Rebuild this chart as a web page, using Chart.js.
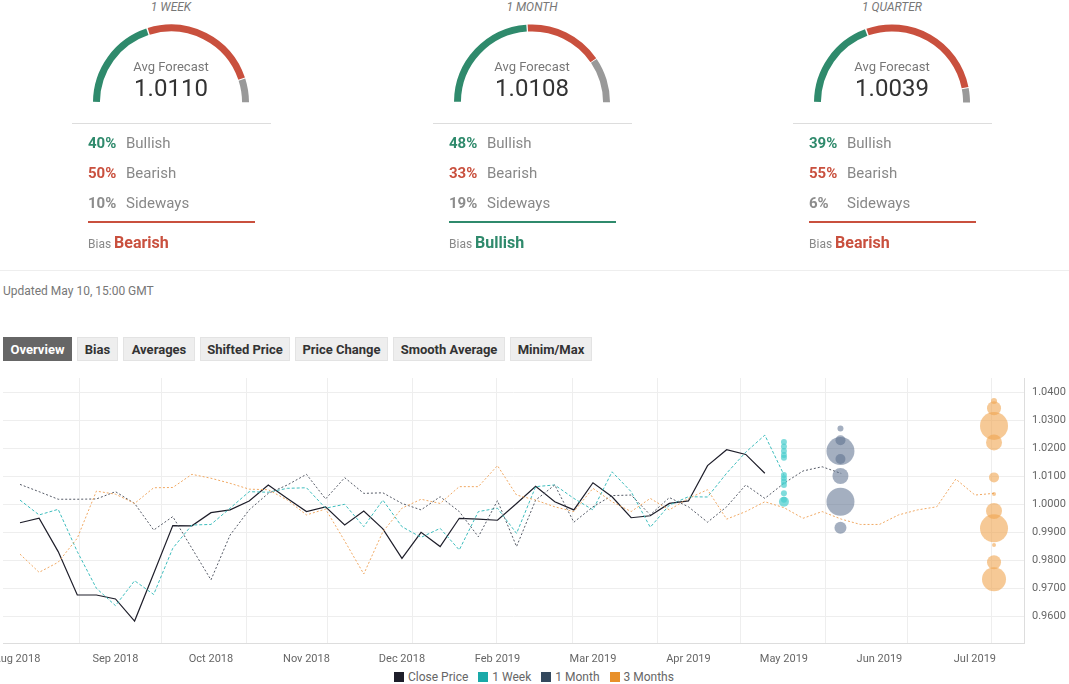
<!DOCTYPE html>
<html><head><meta charset="utf-8">
<script src="https://cdn.jsdelivr.net/npm/chart.js@4"></script>
<style>
body{margin:0;width:1069px;height:684px;position:relative;font-family:Roboto,"Open Sans",sans-serif;background:#fff;overflow:hidden}
.abs{position:absolute}
.title{font-style:italic;font-size:12px;color:#777;width:200px;text-align:center}
.avg{font-size:13px;color:#777;width:200px;text-align:center}
.val{font-size:24px;color:#333;width:200px;text-align:center}
.row{font-size:15px;color:#888}
.row b{display:inline-block;width:38px;font-weight:bold}
.bias{font-size:12px;color:#888}
.bias b{font-size:16px}
.btn{position:absolute;top:337px;height:24px;line-height:24px;background:#eee;color:#333;font-weight:bold;font-size:13px;text-align:center;border:1px solid #e3e3e3;box-sizing:border-box}
.leg{position:absolute;top:670px;font-size:12px;color:#666}
.leg span{display:inline-block;width:10px;height:10px;margin:0 4px 0 10px;vertical-align:-1px}
</style></head><body>
<div id="gauges"></div>
<div class="abs" style="left:0;top:270px;width:1069px;border-top:1px solid #eee"></div>
<div class="abs" style="left:3px;top:284px;font-size:12px;color:#777">Updated May 10, 15:00 GMT</div>
<div class="btn" style="left:3px;width:69px;background:#666;color:#fff;border-color:#666">Overview</div>
<div class="btn" style="left:77px;width:41px">Bias</div>
<div class="btn" style="left:123px;width:72px">Averages</div>
<div class="btn" style="left:200px;width:90px">Shifted Price</div>
<div class="btn" style="left:295px;width:93px">Price Change</div>
<div class="btn" style="left:393px;width:112px">Smooth Average</div>
<div class="btn" style="left:510px;width:82px">Minim/Max</div>
<div class="abs" style="left:0;top:375px;width:1069px;height:295px"><canvas id="c"></canvas></div>
<div class="leg" style="left:384px"><span style="background:#1e1e2a"></span>Close Price<span style="background:#1aa9a8"></span>1 Week<span style="background:#34495e"></span>1 Month<span style="background:#e8902a"></span>3 Months</div>
<script>
// ---- gauges ----
const gaugeTitles=["1 WEEK","1 MONTH","1 QUARTER"];
const gaugeAvg=["1.0110","1.0108","1.0039"];
const gaugeBull=[40,48,39];
const gaugeBear=[50,33,55];
const gaugeSide=[10,19,6];
const gaugeBias=["Bearish","Bullish","Bearish"];
const GREEN="#2f8a6c",RED="#c9503e",GRAY="#8c8c8c";

// ---- main chart (x = week index) ----
const xTickWeeks=[-0.16,5,10,15,20,25,30,35,40,45,50];
const xTickLabels=["Aug 2018","Sep 2018","Oct 2018","Nov 2018","Dec 2018","Feb 2019","Mar 2019","Apr 2019","May 2019","Jun 2019","Jul 2019"];
const gridWeeks=[3.10,7.39,11.84,16.08,20.53,24.97,28.95,33.37,37.71,42.16,46.45,50.86];
const closePrice=[0.9933,0.9949,0.9830,0.9675,0.9675,0.9661,0.9582,0.9752,0.9923,0.9922,0.9969,0.9979,1.0011,1.0068,1.0020,0.9973,0.9990,0.9925,0.9975,0.9911,0.9806,0.9899,0.9848,0.9949,0.9946,0.9942,1.0002,1.0063,1.0008,0.9979,1.0076,1.0026,0.9951,0.9958,1.0002,1.0011,1.0137,1.0194,1.0177,1.0110];
const week1=[1.0014,0.9961,0.9981,0.9830,0.9699,0.9637,0.9726,0.9677,0.9842,0.9925,0.9927,0.9985,1.0044,1.0042,1.0056,1.0058,0.9985,0.9999,0.9919,1.0014,0.9919,0.9881,0.9913,0.9836,0.9973,0.9985,0.9895,1.0062,1.0068,1.0020,0.9979,1.0115,1.0044,0.9917,0.9996,1.0026,1.0025,1.0110,1.0185,1.0246,1.0104];
const month1=[1.0070,1.0044,1.0017,1.0017,1.0018,1.0044,1.0002,0.9907,0.9955,0.9842,0.9729,0.9889,0.9979,1.0038,1.0068,1.0106,1.0018,1.0094,1.0038,1.0040,1.0002,0.9979,1.0026,0.9973,0.9883,1.0012,0.9848,1.0014,1.0068,0.9935,0.9990,1.0030,1.0032,0.9961,1.0023,0.9990,0.9935,0.9990,1.0068,1.0020,1.0074,1.0118,1.0133,1.0109];
const month3=[0.9821,0.9756,0.9792,0.9878,1.0046,1.0035,1.0002,1.0058,1.0059,1.0106,1.0092,1.0074,1.0053,1.0051,1.0014,0.9961,0.9982,0.9868,0.9750,0.9901,0.9985,1.0017,1.0002,1.0062,1.0062,1.0137,1.0032,1.0014,0.9990,0.9973,1.0056,1.0008,0.9973,1.0020,0.9979,1.0020,1.0051,0.9946,0.9973,1.0008,0.9987,0.9949,0.9973,0.9946,0.9927,0.9927,0.9961,0.9979,0.9990,1.0089,1.0032,1.0038];
const week1Bubbles=[[1.0221,3],[1.0205,3],[1.0189,3],[1.0175,3],[1.0165,3],[1.0104,3],[1.0092,3],[1.0080,3],[1.0068,3],[1.0038,3],[1.0008,5],[1.0015,3]];
const month1Bubbles=[[1.0270,3],[1.0189,14],[1.0228,5],[1.0161,5],[1.0100,8],[1.0008,14],[0.9915,6]];
const month3Bubbles=[[1.0368,3],[1.0342,7],[1.0279,14],[1.0220,8],[1.0095,5],[1.0036,2],[0.9975,8],[0.9913,14],[0.9854,2],[0.9792,7],[0.9731,12]];
const week1BubbleX=40, month1BubbleX=42.96, month3BubbleX=51;
const yTicks=[0.96,0.97,0.98,0.99,1.00,1.01,1.02,1.03,1.04];

// build gauges
const centers=[171,532,892];
const gaugeBox=document.getElementById('gauges');
centers.forEach((cx,i)=>{
  const biasCol=gaugeBias[i]==="Bullish"?GREEN:RED;
  const h=`
  <div class="abs title" style="left:${cx-100}px;top:0px">${gaugeTitles[i]}</div>
  <div class="abs" style="left:${cx-78}px;top:24px;width:156px;height:80px"><canvas id="g${i}"></canvas></div>
  <div class="abs avg" style="left:${cx-100}px;top:59px">Avg Forecast</div>
  <div class="abs val" style="left:${cx-100}px;top:74px">${gaugeAvg[i]}</div>
  <div class="abs" style="left:${cx-99}px;top:123px;width:199px;border-top:1px solid #ddd"></div>
  <div class="abs row" style="left:${cx-83}px;top:134px"><b style="color:${GREEN}">${gaugeBull[i]}%</b>Bullish</div>
  <div class="abs row" style="left:${cx-83}px;top:164px"><b style="color:${RED}">${gaugeBear[i]}%</b>Bearish</div>
  <div class="abs row" style="left:${cx-83}px;top:194px"><b style="color:${GRAY}">${gaugeSide[i]}%</b>Sideways</div>
  <div class="abs" style="left:${cx-83}px;top:221px;width:167px;border-top:2px solid ${biasCol}"></div>
  <div class="abs bias" style="left:${cx-83}px;top:233px">Bias <b style="color:${biasCol}">${gaugeBias[i]}</b></div>`;
  gaugeBox.insertAdjacentHTML('beforeend',h);
});
centers.forEach((cx,i)=>{
  new Chart(document.getElementById('g'+i),{type:'doughnut',
    data:{labels:['Bullish','Bearish','Sideways'],datasets:[{data:[gaugeBull[i],gaugeBear[i],gaugeSide[i]],backgroundColor:[GREEN,RED,'#999'],borderWidth:0,spacing:2}]},
    options:{responsive:true,maintainAspectRatio:false,animation:false,rotation:-90,circumference:180,cutout:'91%',
      plugins:{legend:{display:false},tooltip:{enabled:false}}}});
});

const pts=a=>a.map((y,i)=>({x:i,y}));
const bub=(a,x)=>a.map(p=>({x,y:p[0],r:p[1]}));
const noPadX=a=>{a.paddingLeft=0;a.paddingRight=0;};
const XMIN=-0.89, XMAX=52.57;
new Chart(document.getElementById('c'),{
  data:{datasets:[
    {type:'bubble',label:'3M',data:bub(month3Bubbles,month3BubbleX),backgroundColor:'rgba(240,165,80,0.6)',borderWidth:0},
    {type:'bubble',label:'1M',data:bub(month1Bubbles,month1BubbleX),backgroundColor:'rgba(90,110,140,0.55)',borderWidth:0},
    {type:'bubble',label:'1W',data:bub(week1Bubbles,week1BubbleX),backgroundColor:'rgba(72,205,205,0.7)',borderWidth:0},
    {type:'line',label:'3 Months',data:pts(month3),borderColor:'#f0a862',borderWidth:1,borderDash:[2,2],pointRadius:0,tension:0},
    {type:'line',label:'1 Month',data:pts(month1),borderColor:'#555a66',borderWidth:1,borderDash:[2,2],pointRadius:0,tension:0},
    {type:'line',label:'1 Week',data:pts(week1),borderColor:'#3dbdbd',borderWidth:1,borderDash:[3,2],pointRadius:0,tension:0},
    {type:'line',label:'Close Price',data:pts(closePrice),borderColor:'#1e1e2a',borderWidth:1.2,pointRadius:0,tension:0}
  ]},
  options:{responsive:true,maintainAspectRatio:false,animation:false,
    layout:{autoPadding:false,padding:{top:3,left:3,right:0,bottom:0}},
    plugins:{legend:{display:false},tooltip:{enabled:false}},
    scales:{
      x:{type:'linear',min:XMIN,max:XMAX,position:'bottom',
        afterBuildTicks:a=>{a.ticks=gridWeeks.map(v=>({value:v}))},
        ticks:{display:false},grid:{color:'#eee',drawTicks:false},border:{color:'#ddd'},
        afterFit:a=>{a.height=0;noPadX(a);}},
      x2:{type:'linear',min:XMIN,max:XMAX,position:'bottom',
        afterBuildTicks:a=>{a.ticks=xTickWeeks.map(v=>({value:v}))},
        ticks:{autoSkip:false,maxRotation:0,color:'#666',font:{size:11,family:'Roboto'},padding:2,
          callback:(v,i)=>xTickLabels[i]},
        grid:{display:false},border:{display:false},afterFit:a=>{a.height=27;noPadX(a);}},
      y:{position:'right',min:0.95036,max:1.045,
        afterBuildTicks:a=>{a.ticks=yTicks.map(v=>({value:v}))},
        ticks:{color:'#666',font:{size:11,family:'Roboto'},padding:8,callback:v=>v.toFixed(4)},
        grid:{color:'#eee',drawTicks:false},border:{color:'#ddd'},
        afterFit:a=>{a.width=45;a.paddingTop=0;a.paddingBottom=0;}}
    }}
});
</script></body></html>
